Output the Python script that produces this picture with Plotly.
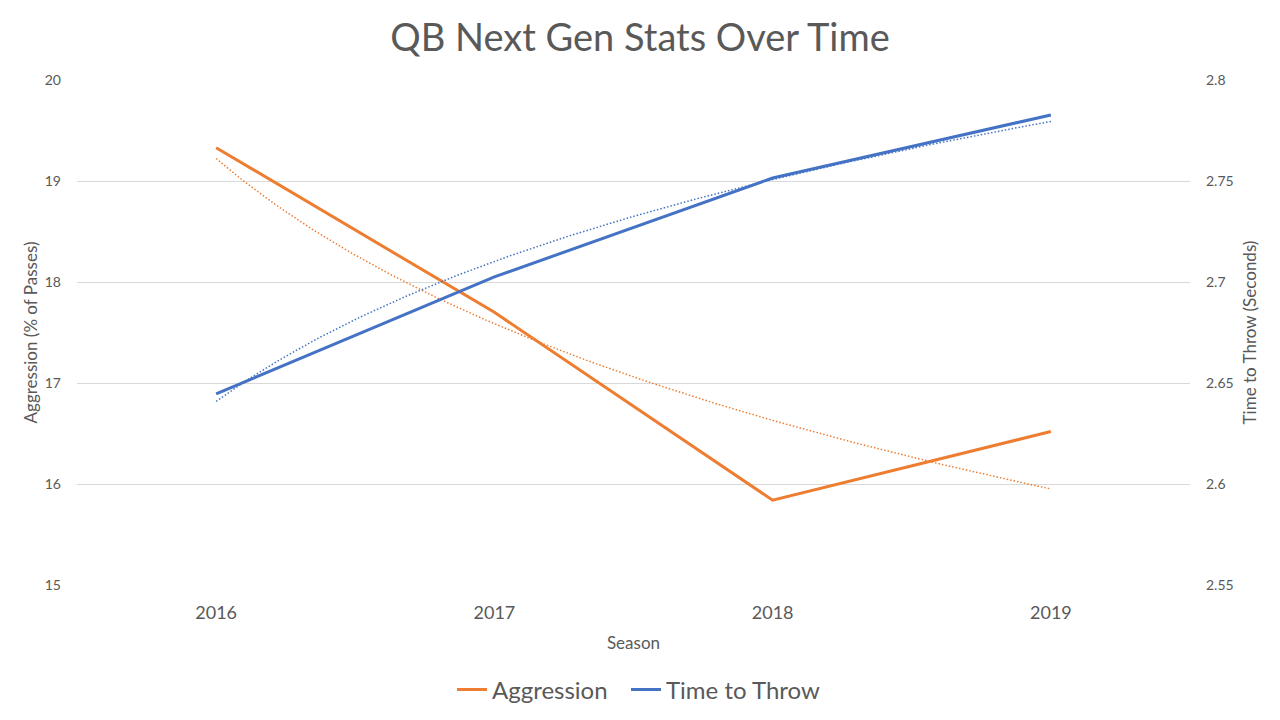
import numpy as np
import plotly.graph_objects as go

seasons = ["2016", "2017", "2018", "2019"]
aggression = [19.33, 17.70, 15.84, 16.52]
time_to_throw = [2.6446, 2.7025, 2.7515, 2.7827]

ORANGE = "#ED7D31"
BLUE = "#4472C4"
TEXT = "#595959"
GRID = "#D9D9D9"
FONT = "Lato, Open Sans, sans-serif"

xi = np.arange(len(seasons))


def log_trend(vals, n=200):
    # Excel-style logarithmic trendline: y = a + b*ln(k), k = 1..N
    k = np.arange(1, len(vals) + 1)
    b, a = np.polyfit(np.log(k), np.array(vals), 1)
    kk = np.linspace(1, len(vals), n)
    return kk - 1, a + b * np.log(kk)


fig = go.Figure()

tx, ty = log_trend(aggression)
fig.add_trace(go.Scatter(x=tx, y=ty, mode="lines", showlegend=False,
                         line=dict(color=ORANGE, width=1.5, dash="1.5px,2px"),
                         hoverinfo="skip"))
tx2, ty2 = log_trend(time_to_throw)
fig.add_trace(go.Scatter(x=tx2, y=ty2, mode="lines", showlegend=False, yaxis="y2",
                         line=dict(color=BLUE, width=1.5, dash="1.5px,2px"),
                         hoverinfo="skip"))

fig.add_trace(go.Scatter(x=xi, y=aggression, mode="lines", name="Aggression",
                         line=dict(color=ORANGE, width=3), legend="legend"))
fig.add_trace(go.Scatter(x=xi, y=time_to_throw, mode="lines", name="Time to Throw",
                         yaxis="y2", line=dict(color=BLUE, width=3), legend="legend2"))

leg_common = dict(orientation="h", xref="container", yref="container",
                  xanchor="left", y=1 - 690 / 720, yanchor="middle",
                  font=dict(size=24, color=TEXT), itemwidth=30,
                  bgcolor="rgba(0,0,0,0)")

fig.update_layout(
    width=1280, height=720,
    paper_bgcolor="white", plot_bgcolor="white",
    font=dict(family=FONT, color=TEXT),
    margin=dict(l=77, r=90, t=80, b=135, autoexpand=False),
    title=dict(text="QB Next Gen Stats Over Time", x=0.5, xanchor="center",
               y=0.947, yanchor="middle", automargin=False,
               font=dict(size=38, color=TEXT, family=FONT)),
    xaxis=dict(tickmode="array", tickvals=list(xi), ticktext=seasons,
               range=[-0.5, len(seasons) - 0.5], showgrid=False, zeroline=False,
               showline=False, ticks="", tickfont=dict(size=18, color=TEXT),
               automargin=False, ticklabelstandoff=15,
               title=dict(text="Season", font=dict(size=17, color=TEXT), standoff=15)),
    yaxis=dict(range=[15, 20], dtick=1, showgrid=True, gridcolor=GRID, gridwidth=1,
               zeroline=False, showline=False, ticks="", automargin=False,
               tickfont=dict(size=14, color=TEXT), ticklabelstandoff=15,
               title=dict(text="Aggression (% of Passes)", font=dict(size=17, color=TEXT),
                          standoff=2)),
    yaxis2=dict(range=[2.55, 2.8], dtick=0.05, overlaying="y", side="right",
                showgrid=False, zeroline=False, showline=False, ticks="", automargin=False,
                tickfont=dict(size=14, color=TEXT), ticklabelstandoff=15,
                title=dict(text="Time to Throw (Seconds)", font=dict(size=17, color=TEXT),
                           standoff=11)),
    legend=dict(x=452 / 1280, **leg_common),
    legend2=dict(x=626 / 1280, **leg_common),
    showlegend=True,
)

fig.write_html("out.html", config={"displayModeBar": False},
               post_script="document.body.style.margin='0px';")
